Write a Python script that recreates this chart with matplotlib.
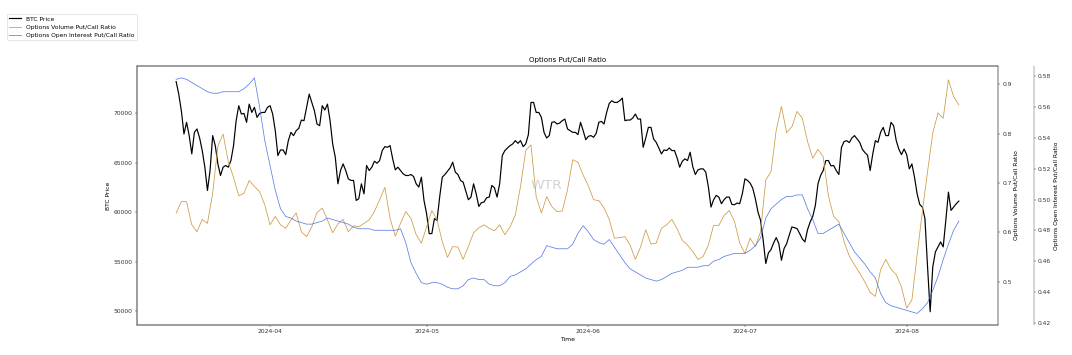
import numpy as np
import pandas as pd
import matplotlib
matplotlib.use('Agg')
import matplotlib.pyplot as plt
import matplotlib.dates as mdates

# BTC price, read every 12 hours from 2024-03-14
btc_price = [
    73180, 71910, 70230, 67880, 69060, 67720, 65870, 68050, 68390, 67480,
    66210, 64530, 62180, 64190, 67720, 66710, 64860, 63690, 64530, 64700,
    64530, 65200, 66710, 69230, 70740, 69900, 69960, 69060, 70900, 70060,
    70570, 69560, 69960, 70060, 70060, 70570, 70740, 69900, 68220, 65700,
    66270, 66270, 65800, 67210, 68050, 67720, 68220, 68450, 69290, 69230,
    70570, 71910, 71070, 70230, 68890, 68720, 70740, 70300, 70900, 69230,
    66880, 65530, 62850, 64190, 64860, 64190, 63350, 63190, 63190, 61170,
    61340, 62850, 61840, 64700, 64190, 64530, 65130, 64930, 65200, 66210,
    66610, 66540, 66710, 65370, 64260, 64530, 64190, 63860, 63690, 63690,
    63790, 63590, 62850, 62520, 63520, 61170, 59830, 57820, 57820, 59330,
    59160, 61510, 63520, 63790, 64130, 64460, 65030, 64030, 63790, 63190,
    63020, 62110, 61240, 61510, 62850, 61840, 60570, 60940, 61010, 61440,
    61510, 62680, 62450, 61510, 62850, 65700, 66210, 66470, 66710, 66880,
    67210, 66940, 67210, 66610, 66880, 67820, 71070, 71070, 70060, 70060,
    69560, 68050, 67480, 67720, 69060, 69120, 68890, 68990, 69230, 69390,
    68390, 68220, 68050, 68050, 67820, 69060, 68220, 67310, 67650, 67720,
    67550, 67950, 69060, 69160, 68890, 70060, 70970, 71240, 71070, 71070,
    71240, 71510, 69230, 69290, 69290, 69490, 69900, 69390, 69390, 66540,
    67480, 68550, 68550, 67380, 67040, 66470, 65870, 66270, 66210, 66470,
    66210, 66210, 65470, 64530, 65130, 65370, 65200, 66040, 64600, 63790,
    64260, 64360, 64360, 64030, 62520, 60500, 61240, 61680, 61510, 60840,
    61240, 61510, 61510, 60770, 60740, 60910, 60840, 61840, 63350, 63190,
    62920, 62410, 61340, 60000, 59160, 57150, 54800, 55870, 56210, 56880,
    57420, 56810, 55130, 56310, 56810, 57680, 58490, 58420, 58320, 57820,
    57280, 56980, 58220, 58990, 59560, 60670, 62850, 63690, 64190, 65200,
    65200, 64660, 64700, 64190, 63790, 66540, 67110, 67210, 67010, 67480,
    67720, 67380, 67040, 66340, 66000, 65740, 64190, 65870, 67210, 67040,
    68050, 68550, 67720, 67720, 69060, 68720, 67210, 66340, 65800, 66370,
    65800, 64360, 64860, 63520, 61840, 60770, 60500, 59330, 54460, 49930,
    54460, 55970, 56480, 56980, 56480, 59160, 62010, 60170, 60500, 60840,
    61110,
]

# daily options volume put/call ratio
volume_pcr = [
    0.639, 0.662, 0.662, 0.615, 0.601, 0.626, 0.618, 0.679, 0.775, 0.799,
    0.743, 0.711, 0.674, 0.679, 0.705, 0.693, 0.682, 0.655, 0.615, 0.632,
    0.615, 0.608, 0.625, 0.639, 0.601, 0.591, 0.611, 0.640, 0.649, 0.625,
    0.599, 0.617, 0.626, 0.601, 0.613, 0.611, 0.618, 0.625, 0.642, 0.666,
    0.691, 0.628, 0.592, 0.618, 0.642, 0.628, 0.595, 0.578, 0.611, 0.644,
    0.625, 0.581, 0.549, 0.571, 0.570, 0.545, 0.571, 0.599, 0.609, 0.615,
    0.608, 0.603, 0.615, 0.595, 0.611, 0.635, 0.693, 0.766, 0.777, 0.672,
    0.639, 0.672, 0.652, 0.642, 0.643, 0.686, 0.747, 0.742, 0.716, 0.694,
    0.666, 0.664, 0.649, 0.626, 0.588, 0.589, 0.591, 0.574, 0.545, 0.570,
    0.605, 0.576, 0.578, 0.608, 0.615, 0.626, 0.607, 0.584, 0.574, 0.561,
    0.545, 0.551, 0.574, 0.614, 0.614, 0.634, 0.644, 0.622, 0.578, 0.557,
    0.588, 0.571, 0.601, 0.706, 0.723, 0.807, 0.855, 0.802, 0.814, 0.845,
    0.831, 0.784, 0.750, 0.768, 0.753, 0.674, 0.632, 0.622, 0.581, 0.552,
    0.534, 0.517, 0.499, 0.478, 0.470, 0.524, 0.545, 0.525, 0.514, 0.489,
    0.446, 0.463, 0.554, 0.642, 0.723, 0.801, 0.842, 0.831, 0.909, 0.875,
    0.858,
]

# daily options open interest put/call ratio
oi_pcr = [
    0.578, 0.579, 0.578, 0.576, 0.574, 0.572, 0.570, 0.569, 0.569, 0.570,
    0.570, 0.570, 0.570, 0.572, 0.575, 0.579, 0.560, 0.538, 0.522, 0.506,
    0.494, 0.489, 0.488, 0.486, 0.485, 0.484, 0.484, 0.485, 0.486, 0.488,
    0.487, 0.486, 0.485, 0.484, 0.482, 0.481, 0.481, 0.481, 0.480, 0.480,
    0.480, 0.480, 0.480, 0.481, 0.472, 0.459, 0.452, 0.446, 0.445, 0.446,
    0.446, 0.445, 0.443, 0.442, 0.442, 0.444, 0.448, 0.449, 0.448, 0.448,
    0.445, 0.444, 0.444, 0.446, 0.450, 0.451, 0.453, 0.455, 0.458, 0.461,
    0.463, 0.470, 0.469, 0.468, 0.468, 0.468, 0.471, 0.478, 0.483, 0.479,
    0.474, 0.472, 0.471, 0.474, 0.469, 0.464, 0.459, 0.455, 0.453, 0.451,
    0.449, 0.448, 0.447, 0.448, 0.450, 0.452, 0.453, 0.454, 0.456, 0.456,
    0.456, 0.457, 0.457, 0.460, 0.461, 0.463, 0.464, 0.465, 0.465, 0.465,
    0.467, 0.470, 0.475, 0.488, 0.494, 0.497, 0.500, 0.502, 0.502, 0.503,
    0.503, 0.494, 0.487, 0.478, 0.478, 0.480, 0.482, 0.484, 0.478, 0.472,
    0.466, 0.462, 0.458, 0.453, 0.449, 0.439, 0.433, 0.431, 0.430, 0.429,
    0.428, 0.427, 0.426, 0.429, 0.433, 0.441, 0.450, 0.461, 0.471, 0.480,
    0.486,
]

btc_time = pd.date_range('2024-03-14', periods=len(btc_price), freq='12h')
ratio_time = pd.date_range('2024-03-14', periods=len(volume_pcr), freq='D')

# original was a 25in wide figure, shrunk to 1072px
DPI = 1072 / 25
fig = plt.figure(figsize=(25, 355 / DPI), dpi=DPI)
ax1 = fig.add_axes([137 / 1072, 30 / 355, 861 / 1072, 259 / 355])
ax2 = ax1.twinx()
ax3 = ax1.twinx()
ax3.spines['right'].set_position(('outward', 60))

l1, = ax1.plot(btc_time, btc_price, color='black', lw=2.0, label='BTC Price')
l2, = ax2.plot(ratio_time, volume_pcr, color='#cf9a45', lw=1.3,
               label='Options Volume Put/Call Ratio')
l3, = ax3.plot(ratio_time, oi_pcr, color='royalblue', lw=1.3, alpha=0.85,
               label='Options Open Interest Put/Call Ratio')

ax1.set_ylim(48590, 74750)
ax2.set_ylim(0.412, 0.937)
ax3.set_ylim(0.4185, 0.5867)
ax1.margins(x=0.05)

ax1.xaxis.set_major_locator(mdates.MonthLocator())
ax1.xaxis.set_major_formatter(mdates.DateFormatter('%Y-%m'))

# frame looks grey after shrinking
for ax in (ax1, ax2, ax3):
    for sp in ax.spines.values():
        sp.set_edgecolor('#555555')
    ax.tick_params(colors='#333333')

ax1.set_xlabel('Time')
ax1.set_ylabel('BTC Price')
ax2.set_ylabel('Options Volume Put/Call Ratio')
ax3.set_ylabel('Options Open Interest Put/Call Ratio')
ax1.set_title('Options Put/Call Ratio')

ax1.text(0.476, 0.537, 'WTR', transform=ax1.transAxes, fontsize=23,
         color='gray', alpha=0.35, ha='center', va='center')

fig.legend([l1, l2, l3], [l1.get_label(), l2.get_label(), l3.get_label()],
           loc='upper left', bbox_to_anchor=(7 / 1072, 1 - 14 / 355),
           borderaxespad=0)

fig.savefig('out.png', dpi=DPI)
